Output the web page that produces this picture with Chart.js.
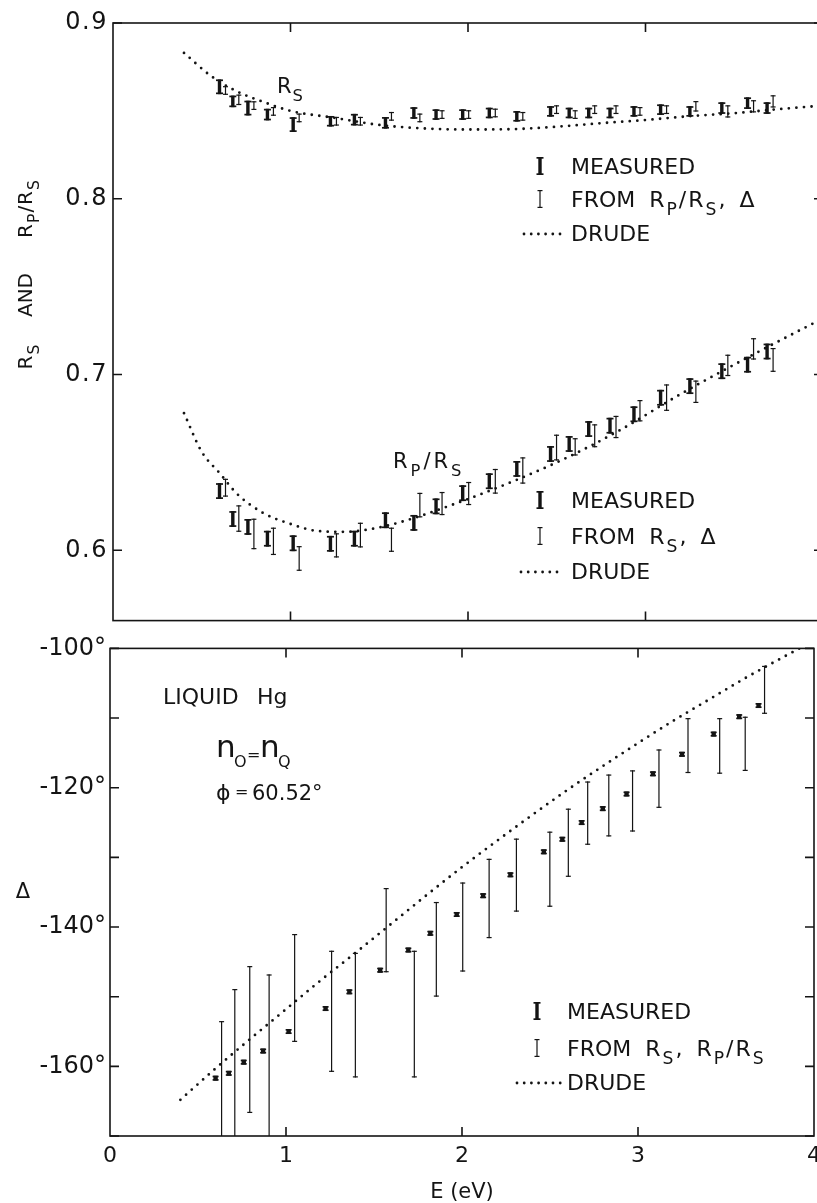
<!DOCTYPE html>
<html>
<head>
<meta charset="utf-8">
<script src="https://cdn.jsdelivr.net/npm/chart.js@4.4.1/dist/chart.umd.min.js"></script>
<style>
  html, body { margin: 0; padding: 0; background: #fff; overflow: hidden; width: 817px; height: 1203px; }
  canvas { position: absolute; left: 0; }
  #topPanel { top: 0; }
  #bottomPanel { top: 630px; }
</style>
</head>
<body>
<canvas id="topPanel" width="870" height="640"></canvas>
<canvas id="bottomPanel" width="870" height="573"></canvas>
<script>
// ===============================
// DATA
// ===============================
// photon energies (eV) of the measured points
const energy = [0.60, 0.675, 0.76, 0.87, 1.015, 1.225, 1.36, 1.535, 1.695, 1.82, 1.97, 2.12,
  2.275, 2.465, 2.57, 2.68, 2.80, 2.935, 3.085, 3.25, 3.43, 3.575, 3.685];

// R_S measured, and R_S computed from R_P/R_S and Delta
const rsMeas = [0.8637, 0.8554, 0.8516, 0.8479, 0.8422, 0.8441, 0.8450, 0.8432, 0.8488, 0.8479, 0.8479, 0.8488,
  0.8469, 0.8497, 0.8488, 0.8488, 0.8488, 0.8497, 0.8507, 0.8497, 0.8516, 0.8544, 0.8516];
const rsMeasErr = [0.0042, 0.0033, 0.0042, 0.0033, 0.0042, 0.003, 0.0033, 0.0033, 0.0033, 0.003, 0.003, 0.003,
  0.003, 0.003, 0.003, 0.003, 0.003, 0.003, 0.003, 0.003, 0.0033, 0.0033, 0.0033];
const rsCalc = [0.8616, 0.8563, 0.8530, 0.8497, 0.8460, 0.8441, 0.8441, 0.8469, 0.8460, 0.8479, 0.8479, 0.8488,
  0.8469, 0.8507, 0.8479, 0.8507, 0.8507, 0.8497, 0.8507, 0.8526, 0.8497, 0.8526, 0.8554];
const rsCalcErr = [0.0025, 0.003, 0.0025, 0.0025, 0.0025, 0.0025, 0.0025, 0.0025, 0.0025, 0.0025, 0.0025, 0.0025,
  0.0025, 0.0025, 0.0025, 0.0025, 0.0025, 0.0025, 0.0025, 0.003, 0.0035, 0.0035, 0.0035];

// R_P/R_S measured, and computed from R_S and Delta (low / high ends)
const rpMeas = [0.6337, 0.6178, 0.6133, 0.6066, 0.6040, 0.6037, 0.6066, 0.6171, 0.6156, 0.6250, 0.6325, 0.6393,
  0.6463, 0.6548, 0.6605, 0.6690, 0.6709, 0.6774, 0.6868, 0.6934, 0.7019, 0.7056, 0.7131];
const rpMeasErr = 0.0045;
const rpCalcLo = [0.6305, 0.6105, 0.6006, 0.5973, 0.5883, 0.5959, 0.6016, 0.5991, 0.6187, 0.6200, 0.6257, 0.6322,
  0.6379, 0.6511, 0.6539, 0.6586, 0.6638, 0.6733, 0.6793, 0.6838, 0.6991, 0.7085, 0.7015];
const rpCalcHi = [0.6407, 0.6256, 0.6180, 0.6129, 0.6024, 0.6097, 0.6157, 0.6129, 0.6327, 0.6332, 0.6389, 0.6463,
  0.6529, 0.6658, 0.6638, 0.6717, 0.6765, 0.6855, 0.6944, 0.6966, 0.7113, 0.7207, 0.7151];

// Delta (degrees) measured, and computed from R_S and R_P/R_S
const dMeas = [-161.7, -161.0, -159.4, -157.8, -155.0, -151.7, -149.3, -146.2, -143.3, -140.9, -138.2, -135.5,
  -132.5, -129.2, -127.4, -125.0, -123.0, -120.9, -118.0, -115.2, -112.3, -109.8, -108.2];
const dMeasErr = 0.3;
const dCalcLo = [-172, -172, -166.7, -172, -156.5, -160.8, -161.6, -146.5, -161.6, -150.0, -146.4, -141.6,
  -137.8, -137.1, -132.8, -128.2, -127.0, -126.3, -122.9, -117.9, -118.0, -117.6, -109.4];
const dCalcHi = [-153.5, -148.9, -145.6, -146.8, -141.0, -143.4, -143.7, -134.4, -143.4, -136.4, -133.6, -130.2,
  -127.3, -126.3, -123.0, -119.1, -118.1, -117.5, -114.5, -110.0, -110.0, -109.8, -102.5];

// Drude model curves
const rsDrudeE = [0.40, 0.55, 0.70, 0.85, 1.00, 1.25, 1.50, 1.75, 2.00, 2.25, 2.50, 2.75, 3.00, 3.25, 3.50, 3.75, 4.00];
const rsDrude = [0.883, 0.870, 0.861, 0.855, 0.850, 0.846, 0.842, 0.840, 0.8394, 0.8396, 0.841, 0.843, 0.8448, 0.847, 0.8487, 0.851, 0.853];
const rpDrudeE = [0.40, 0.50, 0.60, 0.70, 0.85, 1.00, 1.15, 1.30, 1.50, 1.70, 1.90, 2.10, 2.50, 2.85, 3.20, 3.60, 4.00];
const rpDrude = [0.678, 0.656, 0.644, 0.632, 0.621, 0.615, 0.611, 0.6105, 0.613, 0.6185, 0.6255, 0.633, 0.650, 0.668, 0.689, 0.711, 0.732];
const dDrudeE = [0.40, 0.60, 0.80, 1.00, 1.20, 1.40, 1.60, 1.80, 2.00, 2.20, 2.40, 2.60, 2.80, 3.00, 3.20, 3.40, 3.60, 3.80, 4.00];
const dDrude = [-164.8, -160.3, -156.0, -151.8, -147.6, -143.6, -139.5, -135.4, -131.4, -127.6, -123.9, -120.3,
  -116.9, -113.6, -110.4, -107.4, -104.4, -101.6, -98.9];

// axis ticks
const eTicks = [0, 1, 2, 3, 4];
const rTicks = [0.6, 0.7, 0.8, 0.9];
const dTicks = [-170, -160, -150, -140, -130, -120, -110, -100];

// ===============================
// DRAWING HELPERS
// ===============================
const INK = "#141414";
const FONT = '"DejaVu Sans"';
const BOLD = { stem: 3.4, cap: 7, capH: 1.7, minH: 4, dx: 0 };
const THIN = { stem: 1.2, cap: 5, capH: 1.2, minH: 4, dx: 6 };
const TINY = { stem: 4.4, cap: 6, capH: 1.6, minH: 5, dx: 0 };

function drawI(ctx, px, top, bot, s) {
  if (bot - top < s.minH) {
    const c = (top + bot) / 2;
    top = c - s.minH / 2;
    bot = c + s.minH / 2;
  }
  ctx.fillRect(px - s.stem / 2, top, s.stem, bot - top);
  ctx.fillRect(px - s.cap / 2, top, s.cap, s.capH);
  ctx.fillRect(px - s.cap / 2, bot - s.capH, s.cap, s.capH);
}

// text runs; a run starting with "_" is a subscript
function richWidth(ctx, parts, size, gap) {
  let w = 0;
  parts.forEach(p => {
    const sub = p.startsWith("_");
    ctx.font = `${sub ? size * 0.78 : size}px ${FONT}`;
    w += ctx.measureText(sub ? p.slice(1) : p).width + gap;
  });
  return w - gap;
}

function richText(ctx, x, y, parts, size, gap) {
  let cx = x;
  parts.forEach(p => {
    const sub = p.startsWith("_");
    const t = sub ? p.slice(1) : p;
    ctx.font = `${sub ? size * 0.78 : size}px ${FONT}`;
    ctx.fillText(t, cx, y + (sub ? size * 0.36 : 0));
    cx += ctx.measureText(t).width + gap;
  });
}

function legendBlock(ctx, symX, textX, rows, fromParts, dotX, dotCount) {
  ctx.textAlign = "left";
  ctx.textBaseline = "alphabetic";
  drawI(ctx, symX, rows[0] - 9, rows[0] + 9, BOLD);
  ctx.font = `22px ${FONT}`;
  ctx.fillText("MEASURED", textX, rows[0] + 8);
  drawI(ctx, symX, rows[1] - 9, rows[1] + 9, { stem: 1.2, cap: 5, capH: 1.2, minH: 4 });
  richText(ctx, textX, rows[1] + 8, fromParts, 22, 2);
  for (let k = 0; k < dotCount; k++) {
    ctx.beginPath();
    ctx.arc(dotX + k * 7.2, rows[2] + 1, 1.4, 0, Math.PI * 2);
    ctx.fill();
  }
  ctx.font = `22px ${FONT}`;
  ctx.fillText("DRUDE", textX, rows[2] + 8);
}

// ===============================
// PLUGINS
// ===============================
// I-shaped error bars for datasets carrying a "bar" style
const errorBars = {
  id: "errorBars",
  afterDatasetsDraw(chart) {
    const { ctx, chartArea: a, scales: { x, y } } = chart;
    ctx.save();
    ctx.beginPath();
    ctx.rect(a.left, a.top, a.right - a.left, a.bottom - a.top);
    ctx.clip();
    ctx.fillStyle = INK;
    chart.data.datasets.forEach(ds => {
      if (!ds.bar) return;
      ds.data.forEach(p => {
        const px = x.getPixelForValue(p.x) + ds.bar.dx;
        drawI(ctx, px, y.getPixelForValue(p.hi), y.getPixelForValue(p.lo), ds.bar);
      });
    });
    ctx.restore();
  }
};

// box frame with inward tick marks on all four sides
const frame = {
  id: "frame",
  afterDraw(chart, args, opts) {
    const { ctx, chartArea: a, scales: { x, y } } = chart;
    ctx.save();
    ctx.strokeStyle = INK;
    ctx.lineWidth = 1.6;
    ctx.strokeRect(a.left, a.top, a.right - a.left, a.bottom - a.top);
    ctx.beginPath();
    opts.xTicks.forEach(v => {
      const px = x.getPixelForValue(v);
      ctx.moveTo(px, a.top); ctx.lineTo(px, a.top + opts.len);
      ctx.moveTo(px, a.bottom); ctx.lineTo(px, a.bottom - opts.len);
    });
    opts.yTicks.forEach(v => {
      const py = y.getPixelForValue(v);
      ctx.moveTo(a.left, py); ctx.lineTo(a.left + opts.len, py);
      ctx.moveTo(a.right, py); ctx.lineTo(a.right - opts.len, py);
    });
    ctx.stroke();
    ctx.restore();
  }
};

// slightly wider spacing for the reflectance tick labels
const spacedTicks = {
  id: "spacedTicks",
  beforeDraw(chart) { chart.ctx.letterSpacing = "1.5px"; },
  beforeDatasetsDraw(chart) { chart.ctx.letterSpacing = "0px"; }
};

const topNotes = {
  id: "topNotes",
  afterDraw(chart) {
    const ctx = chart.ctx;
    ctx.save();
    ctx.letterSpacing = "0px";
    ctx.fillStyle = INK;
    ctx.textAlign = "left";
    ctx.textBaseline = "alphabetic";
    richText(ctx, 277, 93, ["R", "_S"], 21, 1);
    richText(ctx, 393, 468, ["R", "_P", "/", "R", "_S"], 21, 3);
    legendBlock(ctx, 540, 571, [166, 199, 233], ["FROM  R", "_P", "/", "R", "_S", ",  Δ"], 524, 6);
    legendBlock(ctx, 540, 571, [500, 536, 571], ["FROM  R", "_S", ",  Δ"], 521, 6);

    // rotated axis title
    ctx.translate(32, 0);
    ctx.rotate(-Math.PI / 2);
    [[["R", "_S"], 357], [["AND"], 295], [["R", "_P", "/", "R", "_S"], 209]].forEach(([parts, cy]) => {
      const w = richWidth(ctx, parts, 20, 1);
      richText(ctx, -cy - w / 2, 0, parts, 20, 1);
    });
    ctx.restore();
  }
};

const bottomNotes = {
  id: "bottomNotes",
  afterDraw(chart) {
    const ctx = chart.ctx;
    ctx.save();
    ctx.translate(0, -630);
    ctx.fillStyle = INK;
    ctx.textAlign = "left";
    ctx.textBaseline = "alphabetic";
    ctx.font = `22px ${FONT}`;
    ctx.fillText("LIQUID", 163, 704);
    ctx.fillText("Hg", 257, 704);

    ctx.font = `31px ${FONT}`;
    ctx.fillText("n", 216, 757);
    ctx.fillText("n", 260, 757);
    ctx.font = `16px ${FONT}`;
    ctx.fillText("O", 234, 767);
    ctx.fillText("=", 247, 760);
    ctx.fillText("Q", 278, 767);

    ctx.font = `22px ${FONT}`;
    ctx.fillText("ϕ", 216, 800);
    ctx.font = `16px ${FONT}`;
    ctx.fillText("=", 235, 797);
    ctx.font = `21px ${FONT}`;
    ctx.fillText("60.52°", 252, 800);

    legendBlock(ctx, 537, 567, [1011, 1048, 1082], ["FROM  R", "_S", ",  R", "_P", "/", "R", "_S"], 517, 7);

    ctx.font = `21px ${FONT}`;
    ctx.textAlign = "center";
    ctx.textBaseline = "middle";
    ctx.fillText("Δ", 23, 893);
    ctx.restore();
  }
};

// ===============================
// CHARTS
// ===============================
function pts(xs, ys) {
  return xs.map((x, i) => ({ x, y: ys[i] }));
}

function drudeSet(xs, ys) {
  return {
    data: pts(xs, ys),
    showLine: true,
    pointRadius: 0,
    borderColor: INK,
    borderWidth: 2.8,
    borderDash: [0, 7.6],
    borderCapStyle: "round",
    cubicInterpolationMode: "monotone"
  };
}

function barSet(values, lo, hi, style) {
  return {
    data: energy.map((e, i) => ({ x: e, y: values[i], lo: lo[i], hi: hi[i] })),
    showLine: false,
    pointRadius: 0,
    bar: style
  };
}

const tickFont = { family: "DejaVu Sans", size: 24 };

new Chart(document.getElementById("topPanel"), {
  type: "scatter",
  data: {
    datasets: [
      drudeSet(rsDrudeE, rsDrude),
      drudeSet(rpDrudeE, rpDrude),
      barSet(rsMeas, rsMeas.map((v, i) => v - rsMeasErr[i]), rsMeas.map((v, i) => v + rsMeasErr[i]), BOLD),
      barSet(rsCalc, rsCalc.map((v, i) => v - rsCalcErr[i]), rsCalc.map((v, i) => v + rsCalcErr[i]), THIN),
      barSet(rpMeas, rpMeas.map(v => v - rpMeasErr), rpMeas.map(v => v + rpMeasErr), BOLD),
      barSet(rpCalcLo.map((v, i) => (v + rpCalcHi[i]) / 2), rpCalcLo, rpCalcHi, THIN)
    ]
  },
  options: {
    responsive: false,
    animation: false,
    layout: { padding: { left: 0, top: 23, right: 47, bottom: 15 } },
    plugins: {
      legend: { display: false },
      tooltip: { enabled: false },
      frame: { xTicks: [1, 2, 3], yTicks: rTicks, len: 9 }
    },
    scales: {
      x: { type: "linear", min: 0, max: 4, display: false },
      y: {
        type: "linear", min: 0.56, max: 0.9,
        grid: { display: false, drawTicks: false },
        border: { display: false },
        afterBuildTicks: s => { s.ticks = rTicks.map(v => ({ value: v })); },
        afterFit: s => { s.width = 113; },
        ticks: { padding: 5, color: INK, font: tickFont, autoSkip: false, callback: v => v.toFixed(1) }
      }
    }
  },
  plugins: [spacedTicks, errorBars, frame, topNotes]
});

new Chart(document.getElementById("bottomPanel"), {
  type: "scatter",
  data: {
    datasets: [
      drudeSet(dDrudeE, dDrude),
      barSet(dMeas, dMeas.map(v => v - dMeasErr), dMeas.map(v => v + dMeasErr), TINY),
      barSet(dCalcLo.map((v, i) => (v + dCalcHi[i]) / 2), dCalcLo, dCalcHi, THIN)
    ]
  },
  options: {
    responsive: false,
    animation: false,
    layout: { padding: { left: 0, top: 13, right: 56, bottom: 0 } },
    plugins: {
      legend: { display: false },
      tooltip: { enabled: false },
      frame: { xTicks: [1, 2, 3], yTicks: dTicks, len: 9 }
    },
    scales: {
      x: {
        type: "linear", min: 0, max: 4,
        grid: { display: false, drawTicks: false },
        border: { display: false },
        afterBuildTicks: s => { s.ticks = eTicks.map(v => ({ value: v })); },
        afterFit: s => { s.height = 67; },
        ticks: { padding: 7, color: INK, font: { family: "DejaVu Sans", size: 22 }, autoSkip: false, maxRotation: 0 },
        title: { display: true, text: "E (eV)", color: INK, font: { family: "DejaVu Sans", size: 21, lineHeight: 1 }, padding: 0 }
      },
      y: {
        type: "linear", min: -170, max: -100,
        grid: { display: false, drawTicks: false },
        border: { display: false },
        afterBuildTicks: s => { s.ticks = dTicks.map(v => ({ value: v })); },
        afterFit: s => { s.width = 110; },
        ticks: { padding: 4, color: INK, font: tickFont, autoSkip: false, callback: v => (v % 20 === 0 ? v + "°" : "") }
      }
    }
  },
  plugins: [errorBars, frame, bottomNotes]
});
</script>
</body>
</html>
